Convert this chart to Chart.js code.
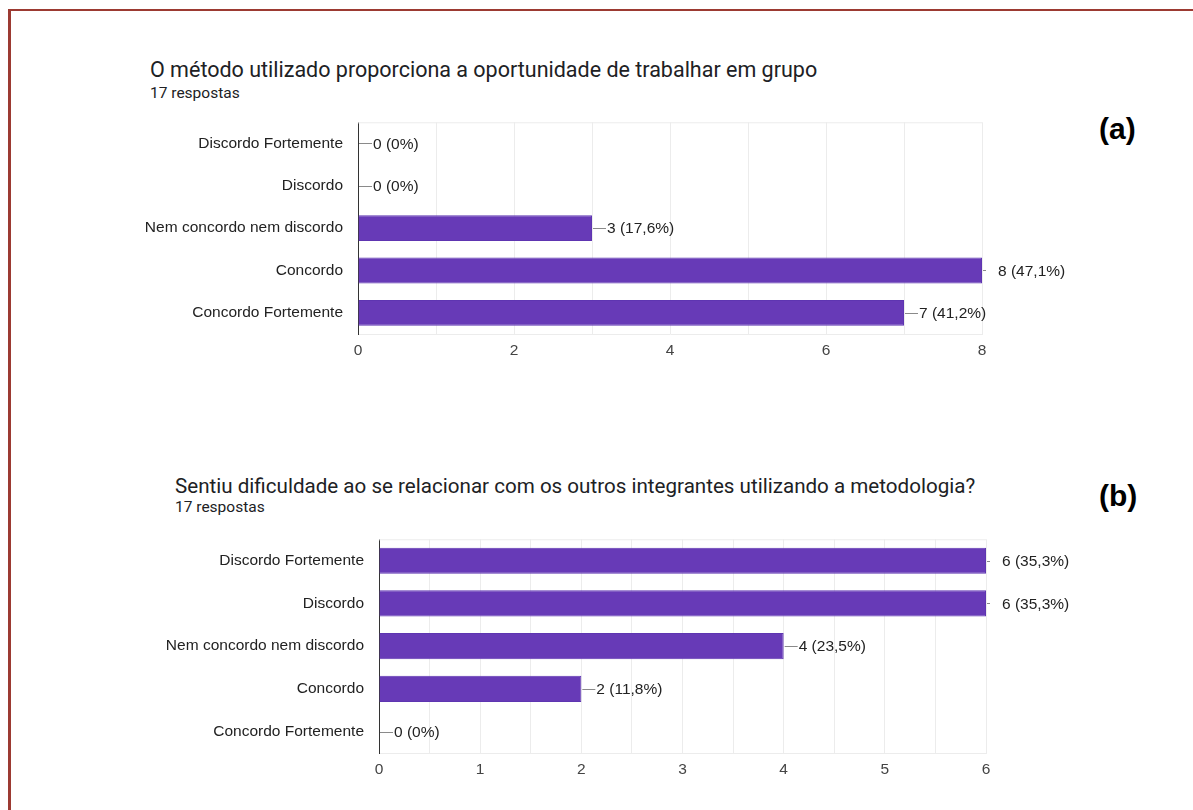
<!DOCTYPE html>
<html lang="pt-BR">
<head>
<meta charset="utf-8">
<title>Respostas</title>
<script src="https://cdn.jsdelivr.net/npm/chart.js@4.4.1/dist/chart.umd.min.js"></script>
<style>
  body { margin: 0; background: #fff; width: 1193px; height: 810px; overflow: hidden; position: relative; }
  .frame { position: absolute; left: 8px; top: 9px; width: 1300px; height: 900px;
           border-left: 3px solid #9c3a32; border-top: 2px solid #9c3a32; }
  .title { position: absolute; font-family: Roboto, "Noto Sans", sans-serif; color: #202124; white-space: nowrap; }
  .sub { position: absolute; font-family: Roboto, "Noto Sans", sans-serif; font-size: 15.5px; color: #202124; white-space: nowrap; }
  .tag { position: absolute; font-family: "Liberation Sans", Arial, sans-serif; font-weight: bold; font-size: 30px; color: #000; }
  .box { position: absolute; }
</style>
</head>
<body>
<div class="frame"></div>

<div class="title" style="left:150px; top:57px; font-size:21.5px;">O método utilizado proporciona a oportunidade de trabalhar em grupo</div>
<div class="sub" style="left:150px; top:84px;">17 respostas</div>
<div class="tag" style="left:1099px; top:112px;">(a)</div>
<div class="box" style="left:130px; top:98px;"><canvas id="chartA" width="1000" height="272"></canvas></div>

<div class="title" style="left:175px; top:474px; font-size:20.6px;">Sentiu dificuldade ao se relacionar com os outros integrantes utilizando a metodologia?</div>
<div class="sub" style="left:175px; top:498px;">17 respostas</div>
<div class="tag" style="left:1099px; top:479px;">(b)</div>
<div class="box" style="left:150px; top:515px;"><canvas id="chartB" width="980" height="272"></canvas></div>

<script>
const totalRespostas = 17;

const categoriasA = ["Discordo Fortemente", "Discordo", "Nem concordo nem discordo", "Concordo", "Concordo Fortemente"];
const valoresA = [0, 0, 3, 8, 7];
const maxA = 8;

const categoriasB = ["Discordo Fortemente", "Discordo", "Nem concordo nem discordo", "Concordo", "Concordo Fortemente"];
const valoresB = [6, 6, 4, 2, 0];
const maxB = 6;

const roxo = "#673ab7";
const fonteEixo = { family: "'Liberation Sans', Arial, sans-serif", size: 15.5 };

function pct(v) {
  if (v === 0) return "0%";
  return (v / totalRespostas * 100).toFixed(1).replace(".", ",") + "%";
}

// rótulo "valor (pct)" com traço ligando a ponta da barra
const rotulos = {
  id: "rotulos",
  afterDatasetsDraw(chart) {
    const ctx = chart.ctx;
    const area = chart.chartArea;
    const xs = chart.scales.x;
    const meta = chart.getDatasetMeta(0);
    const vals = chart.data.datasets[0].data;
    const max = xs.max;

    ctx.save();
    // linha superior da área do gráfico
    ctx.strokeStyle = "#ececec";
    ctx.lineWidth = 1;
    ctx.beginPath();
    ctx.moveTo(area.left, area.top + 0.5);
    ctx.lineTo(area.right, area.top + 0.5);
    ctx.stroke();

    ctx.font = "15.5px 'Liberation Sans', Arial, sans-serif";
    ctx.textBaseline = "middle";
    ctx.textAlign = "left";
    meta.data.forEach((bar, i) => {
      const v = vals[i];
      const x0 = xs.getPixelForValue(v);
      const y = bar.y;
      let len = 14, gap = 1;
      if (v >= max) { len = 4; gap = 12; }
      ctx.strokeStyle = "#8a8a8a";
      ctx.beginPath();
      ctx.moveTo(x0 + 1, Math.round(y) + 0.5);
      ctx.lineTo(x0 + len, Math.round(y) + 0.5);
      ctx.stroke();
      ctx.fillStyle = "#222";
      ctx.fillText(v + " (" + pct(v) + ")", x0 + len + gap, y + 1);
    });
    ctx.restore();
  }
};

function criarGrafico(id, categorias, valores, max, passo, rotuloCada, larguraY, padDir, altX) {
  return new Chart(document.getElementById(id), {
    type: "bar",
    data: {
      labels: categorias,
      datasets: [{
        data: valores,
        backgroundColor: roxo,
        borderColor: "#5e35b1",
        borderWidth: 1,
        barPercentage: 0.61,
        categoryPercentage: 1
      }]
    },
    options: {
      indexAxis: "y",
      responsive: false,
      animation: false,
      layout: { padding: { top: 10, right: padDir, bottom: 0, left: 0 } },
      plugins: { legend: { display: false }, tooltip: { enabled: false } },
      scales: {
        x: {
          min: 0,
          max: max,
          grid: { color: "#ececec", drawTicks: false },
          border: { color: "#ececec" },
          ticks: {
            stepSize: passo,
            autoSkip: false,
            maxRotation: 0,
            padding: 7,
            color: "#444",
            font: fonteEixo,
            callback: (v) => (Math.abs(v / rotuloCada - Math.round(v / rotuloCada)) < 1e-6 ? String(v) : "")
          },
          afterFit: (s) => { s.height = altX; }
        },
        y: {
          grid: { display: false, drawTicks: false },
          border: { color: "#333", width: 1 },
          ticks: { color: "#222", padding: 15, font: fonteEixo },
          afterFit: (s) => { s.width = larguraY; }
        }
      }
    },
    plugins: [rotulos]
  });
}

criarGrafico("chartA", categoriasA, valoresA, maxA, 1, 2, 228, 148, 36);
criarGrafico("chartB", categoriasB, valoresB, maxB, 0.5, 1, 229, 144, 34);
</script>
</body>
</html>
